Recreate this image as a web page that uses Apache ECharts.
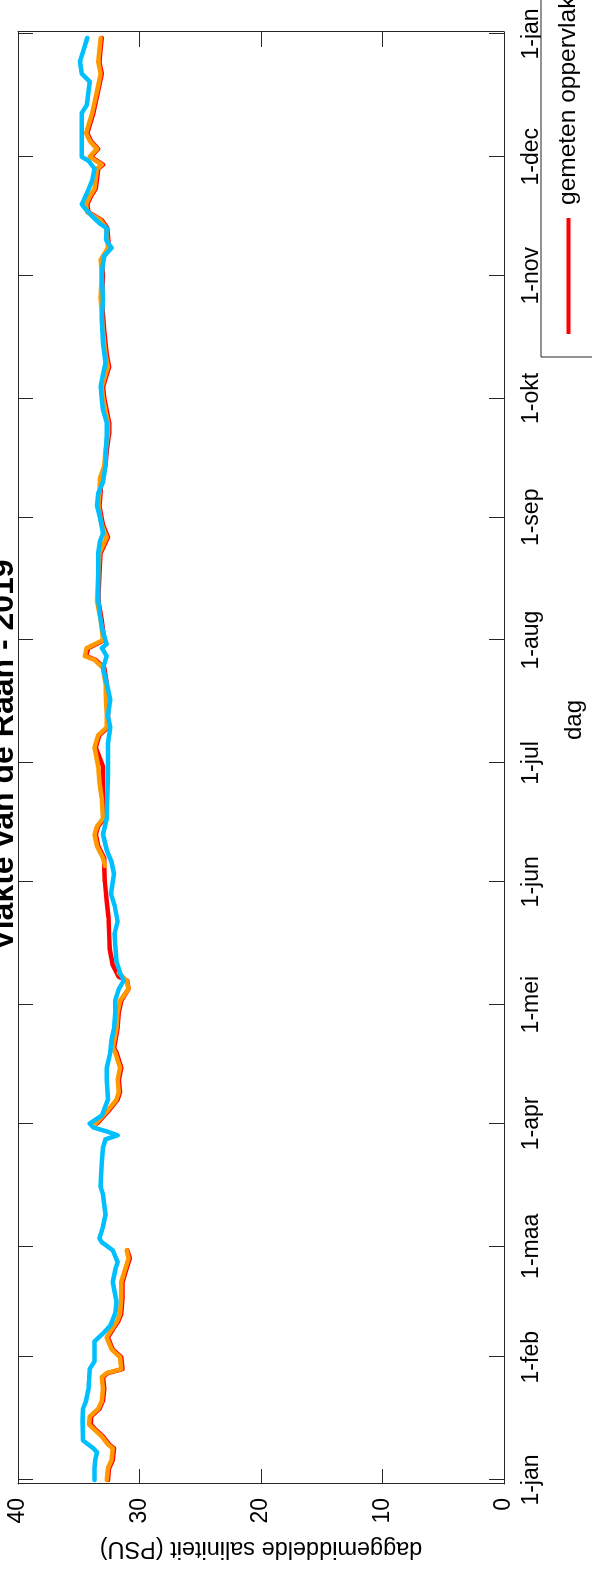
<!DOCTYPE html>
<html>
<head>
<meta charset="utf-8">
<script src="https://cdn.jsdelivr.net/npm/echarts@6/dist/echarts.min.js"></script>
<style>
  html, body { margin: 0; padding: 0; width: 592px; height: 1571px; overflow: hidden; background: #fff; }
  /* the chart is laid out landscape and turned a quarter turn counter-clockwise */
  #chart { position: absolute; left: 0; top: 0; width: 1571px; height: 592px;
           transform-origin: 0 0; transform: translate(0, 1571px) rotate(-90deg); }
</style>
</head>
<body>
<div id="chart"></div>
<script>
// day-of-year positions of the month starts and their labels
const monthTicks  = [0, 31, 59, 90, 120, 151, 181, 212, 243, 273, 304, 334, 365];
const monthLabels = ['1-jan', '1-feb', '1-maa', '1-apr', '1-mei', '1-jun', '1-jul',
                     '1-aug', '1-sep', '1-okt', '1-nov', '1-dec', '1-jan'];
const psuTicks = [0, 10, 20, 30, 40];

// daily mean salinity [day of year, PSU]; null marks a gap in the record
const redSeries = [
  [0,32.6],[3,32.5],[5,32.2],[8,32.1],[9,32.5],[11,33.0],[13,33.7],[14,34.0],[16,34.0],[18,33.3],
  [20,33.0],[23,32.9],[26,33.0],[27,32.6],[28,31.4],[31,31.5],[33,32.2],[36,32.6],[38,32.2],[40,31.75],
  [42,31.5],[46,31.4],[50,31.4],[53,31.1],[56,30.8],[58,31.0],[59,null],
  [90,33.5],[93,32.6],[96,31.8],[98,31.6],[101,31.7],[104,31.5],[108,31.9],[109,32.1],[114,31.8],
  [118,31.7],[121,31.5],[124,30.9],[126,31.0],[127,31.7],[130,32.2],[134,32.45],[138,32.5],[142,32.55],
  [146,32.7],[151,32.85],[155,32.9],[157,32.9],[160,33.4],[163,33.6],[165,33.4],[167,32.9],[172,33.0],
  [176,33.0],[180,33.0],[185,33.6],[188,33.3],[190,32.6],[193,32.6],[197,32.65],[201,32.7],[205,32.9],
  [207,33.6],[208,34.4],[210,34.2],[212,32.9],[217,33.1],[222,33.4],[229,33.3],[234,33.2],[238,32.6],
  [241,33.0],[246,33.3],[249,33.2],[253,33.15],[256,32.8],[260,32.7],[264,32.5],[267,32.5],[273,32.9],
  [276,33.0],[281,32.5],[284,32.7],[290,32.9],[298,33.1],[304,33.0],[308,33.1],[311,32.5],[316,32.65],
  [318,33.1],[320,34.2],[322,34.3],[324,34.0],[326,33.6],[331,33.4],[332,33.0],[334,34.0],[336,33.4],
  [338,34.0],[340,34.3],[345,33.8],[352,33.3],[355,33.1],[358,33.3],[361,33.2],[364,33.1]
];
const orangeSeries = [
  [0,32.7],[3,32.6],[5,32.3],[8,32.2],[9,32.6],[11,33.1],[13,33.8],[14,34.15],[16,34.1],[18,33.4],
  [20,33.1],[23,33.0],[26,33.1],[27,32.7],[28,31.5],[31,31.6],[33,32.3],[36,32.7],[38,32.3],[40,31.85],
  [42,31.6],[46,31.5],[50,31.5],[53,31.2],[56,30.9],[58,31.05],[59,null],
  [90,33.6],[93,32.7],[96,31.9],[98,31.7],[101,31.8],[104,31.6],[108,32.0],[109,32.2],[114,31.9],
  [118,31.8],[121,31.6],[124,30.9],[126,31.05],[128,31.7],[129,null],
  [155,32.85],[157,33.0],[160,33.5],[163,33.7],[165,33.5],[167,33.0],[172,33.1],[176,33.3],[180,33.4],
  [185,33.7],[188,33.4],[190,32.7],[193,32.7],[197,32.75],[201,32.8],[205,33.0],[207,33.7],[208,34.5],
  [210,34.35],[212,33.0],[217,33.2],[222,33.5],[229,33.4],[234,33.3],[238,32.7],[241,33.1],[246,33.4],
  [249,33.3],[253,33.25],[256,32.9],[260,32.8],[264,32.6],[267,32.6],[273,33.0],[276,33.1],[281,32.6],
  [284,32.8],[290,33.0],[298,33.2],[304,33.1],[308,33.2],[311,32.6],[316,32.75],[318,33.2],[320,34.3],
  [322,34.4],[324,34.1],[326,33.7],[331,33.5],[332,33.1],[334,34.1],[336,33.5],[338,34.1],[340,34.4],
  [345,33.9],[352,33.4],[355,33.2],[358,33.4],[361,33.3],[364,33.2]
];
const cyanSeries = [
  [0,33.7],[3,33.7],[5,33.65],[7,33.5],[8,33.8],[10,34.65],[15,34.7],[18,34.65],[20,34.4],[23,34.2],
  [25,34.15],[28,34.1],[30,33.7],[35,33.7],[37,33.0],[39,32.4],[42,32.0],[45,31.9],[50,32.2],[53,32.0],
  [55,31.8],[58,32.2],[60,33.1],[61,33.3],[64,33.0],[67,32.8],[72,33.0],[74,33.2],[80,33.1],[84,33.0],
  [86,32.8],[87,31.8],[88,32.7],[89,33.8],[90,34.1],[92,33.1],[96,32.6],[101,32.7],[104,32.7],[108,32.4],
  [111,32.3],[114,32.1],[118,32.0],[121,32.0],[124,31.7],[126,31.3],[128,31.6],[131,31.9],[135,32.0],
  [138,32.05],[141,31.8],[145,32.05],[148,32.35],[151,32.2],[153,32.1],[156,32.3],[159,32.7],[163,33.0],
  [167,32.7],[172,32.65],[178,32.6],[182,32.6],[186,32.6],[190,32.4],[193,32.6],[197,32.4],[201,32.7],
  [205,33.0],[208,32.7],[210,33.1],[211,32.7],[214,33.0],[217,33.2],[222,33.4],[229,33.4],[234,33.4],
  [237,33.25],[239,33.0],[243,33.25],[246,33.5],[249,33.4],[252,33.0],[256,32.8],[260,32.75],[264,32.7],
  [267,32.7],[270,33.0],[273,33.1],[276,33.2],[279,33.0],[282,32.8],[287,33.0],[293,33.1],[298,33.0],
  [304,33.1],[306,33.05],[309,32.9],[311,32.3],[313,32.75],[316,32.7],[317,33.2],[319,33.9],[321,34.5],
  [322,34.76],[325,34.3],[328,33.9],[331,33.7],[333,34.2],[334,34.76],[340,34.76],[345,34.76],[347,34.35],
  [353,34.1],[355,34.76],[358,34.9],[361,34.6],[364,34.3]
];

const AXIS = '#262626';
const FONT = '"Liberation Sans", Arial, Helvetica, sans-serif';

const chart = echarts.init(document.getElementById('chart'), null,
  { width: 1571, height: 592, renderer: 'canvas' });

function lineSeries(name, data, color) {
  return {
    name, type: 'line', data, showSymbol: false, connectNulls: false,
    xAxisIndex: 0, yAxisIndex: 0,
    lineStyle: { color, width: 4.5, cap: 'round', join: 'round' },
    itemStyle: { color }, emphasis: { disabled: true }
  };
}

const xCommon = {
  type: 'value', min: -1, max: 365.5,
  splitLine: { show: false },
  axisLine: { show: true, onZero: false, lineStyle: { color: AXIS, width: 1 } },
  axisTick: { show: true, inside: true, length: 15, customValues: monthTicks,
              lineStyle: { color: AXIS, width: 1 } }
};
const yCommon = {
  type: 'value', min: 0, max: 40, interval: 10,
  splitLine: { show: false },
  axisLine: { show: true, onZero: false, lineStyle: { color: AXIS, width: 1 } },
  axisTick: { show: true, inside: true, length: 15, lineStyle: { color: AXIS, width: 1 } }
};

chart.setOption({
  animation: false,
  backgroundColor: '#fff',
  title: {
    text: 'Vlakte van de Raan - 2019',
    left: 811, textAlign: 'center', top: -17,
    textStyle: { fontFamily: FONT, fontWeight: 'bold', fontSize: 32, color: '#000' }
  },
  legend: {
    data: ['gemeten oppervlakte', 'gemeten bodem', 'model oppervlakte'],
    left: 1214, top: 541, orient: 'horizontal',
    padding: [15, 10, 10, 23], itemGap: 30,
    itemWidth: 116, itemHeight: 4, icon: 'rect',
    backgroundColor: '#fff', borderColor: AXIS, borderWidth: 1, borderRadius: 0,
    selectedMode: false,
    textStyle: { fontFamily: FONT, fontSize: 24.5, color: '#000', padding: [0, 0, 0, 8] }
  },
  grid: { left: 87, right: 32, top: 18, bottom: 88, containLabel: false },
  xAxis: [
    Object.assign({}, xCommon, {
      position: 'bottom',
      name: 'dag', nameLocation: 'middle', nameGap: 58,
      nameTextStyle: { fontFamily: FONT, fontSize: 24, color: '#000', padding: [0, 0, 0, 76] },
      axisLabel: {
        show: true, customValues: monthTicks, margin: 16,
        fontFamily: FONT, fontSize: 23, color: '#000',
        formatter: v => monthLabels[monthTicks.indexOf(Math.round(v))] || ''
      }
    }),
    Object.assign({}, xCommon, { position: 'top', axisLabel: { show: false } })
  ],
  yAxis: [
    Object.assign({}, yCommon, {
      position: 'left',
      name: 'daggemiddelde saliniteit (PSU)', nameLocation: 'middle', nameGap: 52,
      nameTextStyle: { fontFamily: FONT, fontSize: 23.5, color: '#000' },
      axisLabel: { show: true, margin: 14, fontFamily: FONT, fontSize: 23, color: '#000',
                   formatter: v => psuTicks.includes(v) ? String(v) : '' }
    }),
    Object.assign({}, yCommon, { position: 'right', axisLabel: { show: false } })
  ],
  series: [
    lineSeries('gemeten oppervlakte', redSeries, '#FF0000'),
    lineSeries('gemeten bodem', orangeSeries, '#FF9900'),
    lineSeries('model oppervlakte', cyanSeries, '#00BFFF')
  ]
});
</script>
</body>
</html>
